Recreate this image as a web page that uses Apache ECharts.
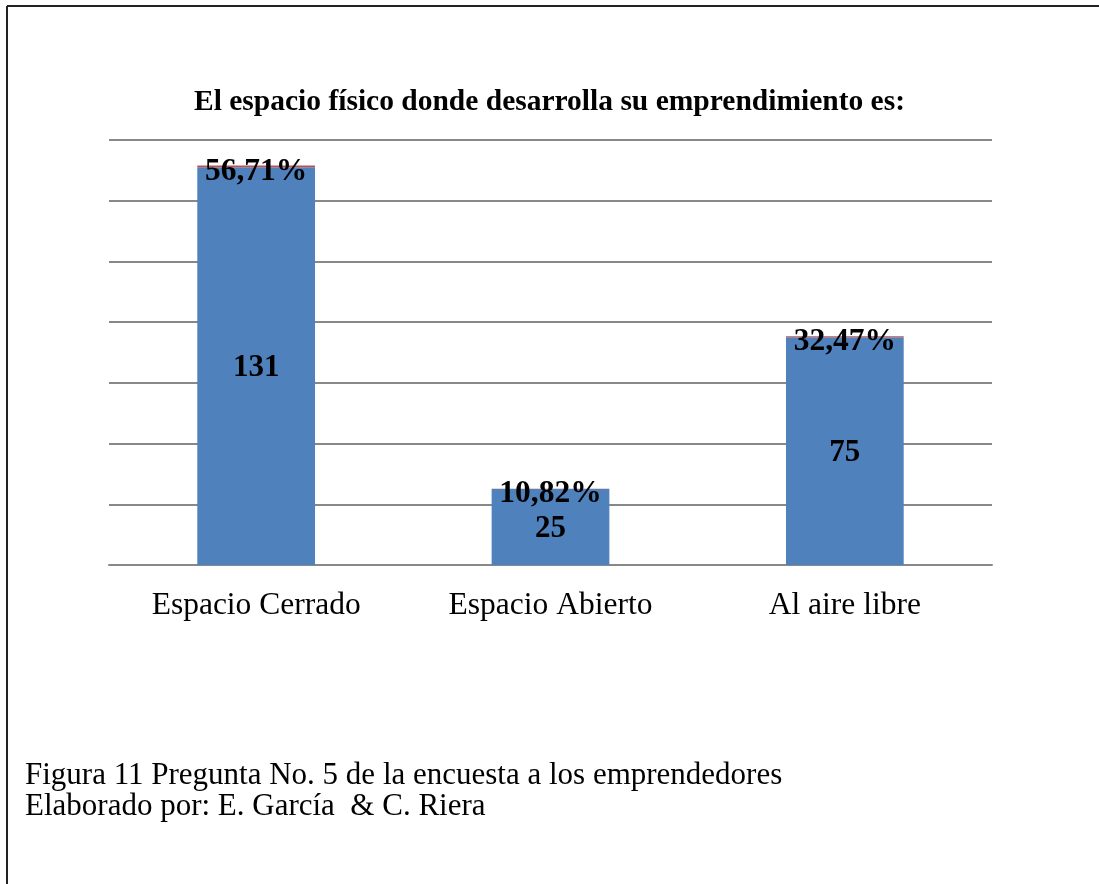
<!DOCTYPE html>
<html>
<head>
<meta charset="utf-8">
<script src="https://cdn.jsdelivr.net/npm/echarts@6/dist/echarts.min.js"></script>
<style>
  html, body { margin: 0; padding: 0; background: #fff; }
  #chart { width: 1099px; height: 884px; }
</style>
</head>
<body>
<div id="chart"></div>
<script>
// categorías y valores
const categories = ['Espacio Cerrado', 'Espacio Abierto', 'Al aire libre']
const counts = [131, 25, 75]
const percents = [0.5671, 0.1082, 0.3247]
const captionLines = [
  'Figura 11 Pregunta No. 5 de la encuesta a los emprendedores',
  'Elaborado por: E. García  & C. Riera'
]

const serif = '"Liberation Serif", "Times New Roman", serif'
const chart = echarts.init(document.getElementById('chart'))

const option = {
  animation: false,
  title: {
    text: 'El espacio físico donde desarrolla su emprendimiento es:',
    left: 'center',
    top: 82,
    textStyle: { fontFamily: serif, fontSize: 29.5, fontWeight: 'bold', color: '#000' }
  },
  grid: { left: 109, right: 107, top: 140, bottom: 319 },
  xAxis: {
    type: 'category',
    data: categories,
    axisLine: { lineStyle: { color: '#888', width: 2 } },
    axisTick: { show: false },
    axisLabel: { fontFamily: serif, fontSize: 31.5, color: '#000', margin: 25 }
  },
  yAxis: {
    type: 'value',
    min: 0,
    max: 140,
    interval: 20,
    axisLabel: { show: false },
    axisLine: { show: false },
    axisTick: { show: false },
    splitLine: { lineStyle: { color: '#888', width: 2 } }
  },
  series: [
    {
      type: 'bar',
      stack: 'total',
      data: counts,
      barWidth: '40%',
      itemStyle: { color: '#4f81bd' },
      label: {
        show: true,
        position: 'inside',
        offset: [0, 2],
        fontFamily: serif,
        fontSize: 31,
        fontWeight: 'bold',
        color: '#000'
      }
    },
    {
      type: 'bar',
      stack: 'total',
      data: percents,
      barWidth: '40%',
      itemStyle: { color: '#c0504d' },
      label: {
        show: true,
        position: 'inside',
        offset: [0, 5],
        fontFamily: serif,
        fontSize: 31.5,
        fontWeight: 'bold',
        color: '#000',
        formatter: p => (p.value * 100).toFixed(2).replace('.', ',') + '%'
      }
    }
  ],
  graphic: [
    { type: 'line', shape: { x1: 7, y1: 6, x2: 1099, y2: 6 }, style: { stroke: '#222', lineWidth: 2 } },
    { type: 'line', shape: { x1: 7, y1: 6, x2: 7, y2: 884 }, style: { stroke: '#222', lineWidth: 2 } },
    {
      type: 'text',
      left: 25,
      top: 760,
      style: {
        text: captionLines.join('\n'),
        font: '31px ' + serif,
        lineHeight: 31,
        fill: '#000'
      }
    }
  ]
}

chart.setOption(option)
</script>
</body>
</html>
